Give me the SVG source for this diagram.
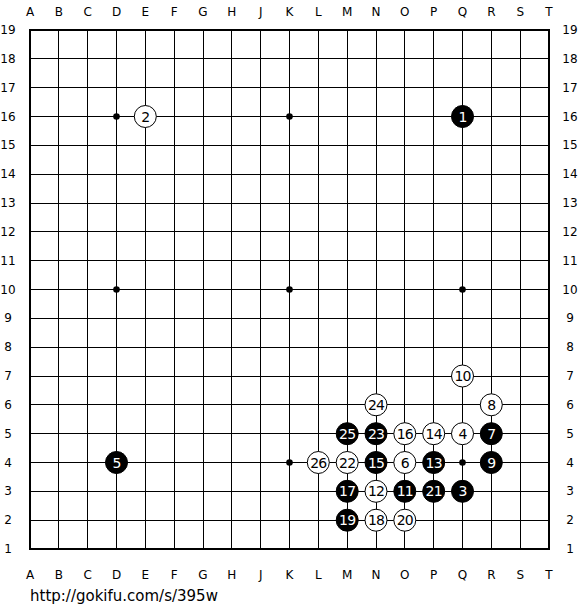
<svg xmlns="http://www.w3.org/2000/svg" width="580" height="610" viewBox="0 0 580 610">
<style>
.g{stroke:#000;stroke-width:1;fill:none;shape-rendering:crispEdges}
.b{stroke:#000;stroke-width:2;fill:none;shape-rendering:crispEdges}
.lbl{font-family:"DejaVu Sans",Verdana,sans-serif;font-size:12px;fill:#000;text-anchor:middle}
.sb{fill:#000;stroke:#000;stroke-width:1}
.sw{fill:#fff;stroke:#000;stroke-width:1}
.nb{font-family:"DejaVu Sans",Verdana,sans-serif;font-size:14px;fill:#fff;text-anchor:middle;letter-spacing:-0.8px}
.nw{font-family:"DejaVu Sans",Verdana,sans-serif;font-size:14px;fill:#000;text-anchor:middle;letter-spacing:-0.8px}
.url{font-family:"DejaVu Sans",Verdana,sans-serif;font-size:15px;fill:#000}
</style>
<rect width="580" height="610" fill="#fff"/>
<g id="grid">
<path class="g" d="M58.8 30V549M87.7 30V549M116.5 30V549M145.3 30V549M174.2 30V549M203 30V549M231.8 30V549M260.7 30V549M289.5 30V549M318.3 30V549M347.2 30V549M376 30V549M404.8 30V549M433.7 30V549M462.5 30V549M491.3 30V549M520.2 30V549"/>
<path class="g" d="M30 58.8H549M30 87.7H549M30 116.5H549M30 145.3H549M30 174.2H549M30 203H549M30 231.8H549M30 260.7H549M30 289.5H549M30 318.3H549M30 347.2H549M30 376H549M30 404.8H549M30 433.7H549M30 462.5H549M30 491.3H549M30 520.2H549"/>
<rect class="b" x="30" y="30" width="519" height="519"/>
</g>
<g id="hoshi" fill="#000">
<circle cx="116.5" cy="116.5" r="3.3"/><circle cx="289.5" cy="116.5" r="3.3"/><circle cx="462.5" cy="116.5" r="3.3"/>
<circle cx="116.5" cy="289.5" r="3.3"/><circle cx="289.5" cy="289.5" r="3.3"/><circle cx="462.5" cy="289.5" r="3.3"/>
<circle cx="116.5" cy="462.5" r="3.3"/><circle cx="289.5" cy="462.5" r="3.3"/><circle cx="462.5" cy="462.5" r="3.3"/>
</g>
<g id="labels-top" class="lbl">
<text x="30" y="16">A</text><text x="58.8" y="16">B</text><text x="87.7" y="16">C</text><text x="116.5" y="16">D</text><text x="145.3" y="16">E</text><text x="174.2" y="16">F</text><text x="203" y="16">G</text><text x="231.8" y="16">H</text><text x="260.7" y="16">J</text><text x="289.5" y="16">K</text><text x="318.3" y="16">L</text><text x="347.2" y="16">M</text><text x="376" y="16">N</text><text x="404.8" y="16">O</text><text x="433.7" y="16">P</text><text x="462.5" y="16">Q</text><text x="491.3" y="16">R</text><text x="520.2" y="16">S</text><text x="549" y="16">T</text>
</g>
<g id="labels-bottom" class="lbl">
<text x="30" y="579">A</text><text x="58.8" y="579">B</text><text x="87.7" y="579">C</text><text x="116.5" y="579">D</text><text x="145.3" y="579">E</text><text x="174.2" y="579">F</text><text x="203" y="579">G</text><text x="231.8" y="579">H</text><text x="260.7" y="579">J</text><text x="289.5" y="579">K</text><text x="318.3" y="579">L</text><text x="347.2" y="579">M</text><text x="376" y="579">N</text><text x="404.8" y="579">O</text><text x="433.7" y="579">P</text><text x="462.5" y="579">Q</text><text x="491.3" y="579">R</text><text x="520.2" y="579">S</text><text x="549" y="579">T</text>
</g>
<g id="labels-left" class="lbl">
<text x="8" y="34">19</text><text x="8" y="62.8">18</text><text x="8" y="91.7">17</text><text x="8" y="120.5">16</text><text x="8" y="149.3">15</text><text x="8" y="178.2">14</text><text x="8" y="207">13</text><text x="8" y="235.8">12</text><text x="8" y="264.7">11</text><text x="8" y="293.5">10</text><text x="8" y="322.3">9</text><text x="8" y="351.2">8</text><text x="8" y="380">7</text><text x="8" y="408.8">6</text><text x="8" y="437.7">5</text><text x="8" y="466.5">4</text><text x="8" y="495.3">3</text><text x="8" y="524.2">2</text><text x="8" y="553">1</text>
</g>
<g id="labels-right" class="lbl">
<text x="570" y="34">19</text><text x="570" y="62.8">18</text><text x="570" y="91.7">17</text><text x="570" y="120.5">16</text><text x="570" y="149.3">15</text><text x="570" y="178.2">14</text><text x="570" y="207">13</text><text x="570" y="235.8">12</text><text x="570" y="264.7">11</text><text x="570" y="293.5">10</text><text x="570" y="322.3">9</text><text x="570" y="351.2">8</text><text x="570" y="380">7</text><text x="570" y="408.8">6</text><text x="570" y="437.7">5</text><text x="570" y="466.5">4</text><text x="570" y="495.3">3</text><text x="570" y="524.2">2</text><text x="570" y="553">1</text>
</g>
<g id="s1"><circle class="sb" cx="462.5" cy="116.5" r="11"/><text class="nb" x="462.5" y="121.5">1</text></g>
<g id="s2"><circle class="sw" cx="145.3" cy="116.5" r="11"/><text class="nw" x="145.3" y="121.5">2</text></g>
<g id="s3"><circle class="sb" cx="462.5" cy="491.3" r="11"/><text class="nb" x="462.5" y="496.3">3</text></g>
<g id="s4"><circle class="sw" cx="462.5" cy="433.7" r="11"/><text class="nw" x="462.5" y="438.7">4</text></g>
<g id="s5"><circle class="sb" cx="116.5" cy="462.5" r="11"/><text class="nb" x="116.5" y="467.5">5</text></g>
<g id="s6"><circle class="sw" cx="404.8" cy="462.5" r="11"/><text class="nw" x="404.8" y="467.5">6</text></g>
<g id="s7"><circle class="sb" cx="491.3" cy="433.7" r="11"/><text class="nb" x="491.3" y="438.7">7</text></g>
<g id="s8"><circle class="sw" cx="491.3" cy="404.8" r="11"/><text class="nw" x="491.3" y="409.8">8</text></g>
<g id="s9"><circle class="sb" cx="491.3" cy="462.5" r="11"/><text class="nb" x="491.3" y="467.5">9</text></g>
<g id="s10"><circle class="sw" cx="462.5" cy="376" r="11"/><text class="nw" x="462.5" y="381">10</text></g>
<g id="s11"><circle class="sb" cx="404.8" cy="491.3" r="11"/><text class="nb" x="404.8" y="496.3">11</text></g>
<g id="s12"><circle class="sw" cx="376" cy="491.3" r="11"/><text class="nw" x="376" y="496.3">12</text></g>
<g id="s13"><circle class="sb" cx="433.7" cy="462.5" r="11"/><text class="nb" x="433.7" y="467.5">13</text></g>
<g id="s14"><circle class="sw" cx="433.7" cy="433.7" r="11"/><text class="nw" x="433.7" y="438.7">14</text></g>
<g id="s15"><circle class="sb" cx="376" cy="462.5" r="11"/><text class="nb" x="376" y="467.5">15</text></g>
<g id="s16"><circle class="sw" cx="404.8" cy="433.7" r="11"/><text class="nw" x="404.8" y="438.7">16</text></g>
<g id="s17"><circle class="sb" cx="347.2" cy="491.3" r="11"/><text class="nb" x="347.2" y="496.3">17</text></g>
<g id="s18"><circle class="sw" cx="376" cy="520.2" r="11"/><text class="nw" x="376" y="525.2">18</text></g>
<g id="s19"><circle class="sb" cx="347.2" cy="520.2" r="11"/><text class="nb" x="347.2" y="525.2">19</text></g>
<g id="s20"><circle class="sw" cx="404.8" cy="520.2" r="11"/><text class="nw" x="404.8" y="525.2">20</text></g>
<g id="s21"><circle class="sb" cx="433.7" cy="491.3" r="11"/><text class="nb" x="433.7" y="496.3">21</text></g>
<g id="s22"><circle class="sw" cx="347.2" cy="462.5" r="11"/><text class="nw" x="347.2" y="467.5">22</text></g>
<g id="s23"><circle class="sb" cx="376" cy="433.7" r="11"/><text class="nb" x="376" y="438.7">23</text></g>
<g id="s24"><circle class="sw" cx="376" cy="404.8" r="11"/><text class="nw" x="376" y="409.8">24</text></g>
<g id="s25"><circle class="sb" cx="347.2" cy="433.7" r="11"/><text class="nb" x="347.2" y="438.7">25</text></g>
<g id="s26"><circle class="sw" cx="318.3" cy="462.5" r="11"/><text class="nw" x="318.3" y="467.5">26</text></g>
<text class="url" x="30" y="601">http://gokifu.com/s/395w</text>
</svg>
